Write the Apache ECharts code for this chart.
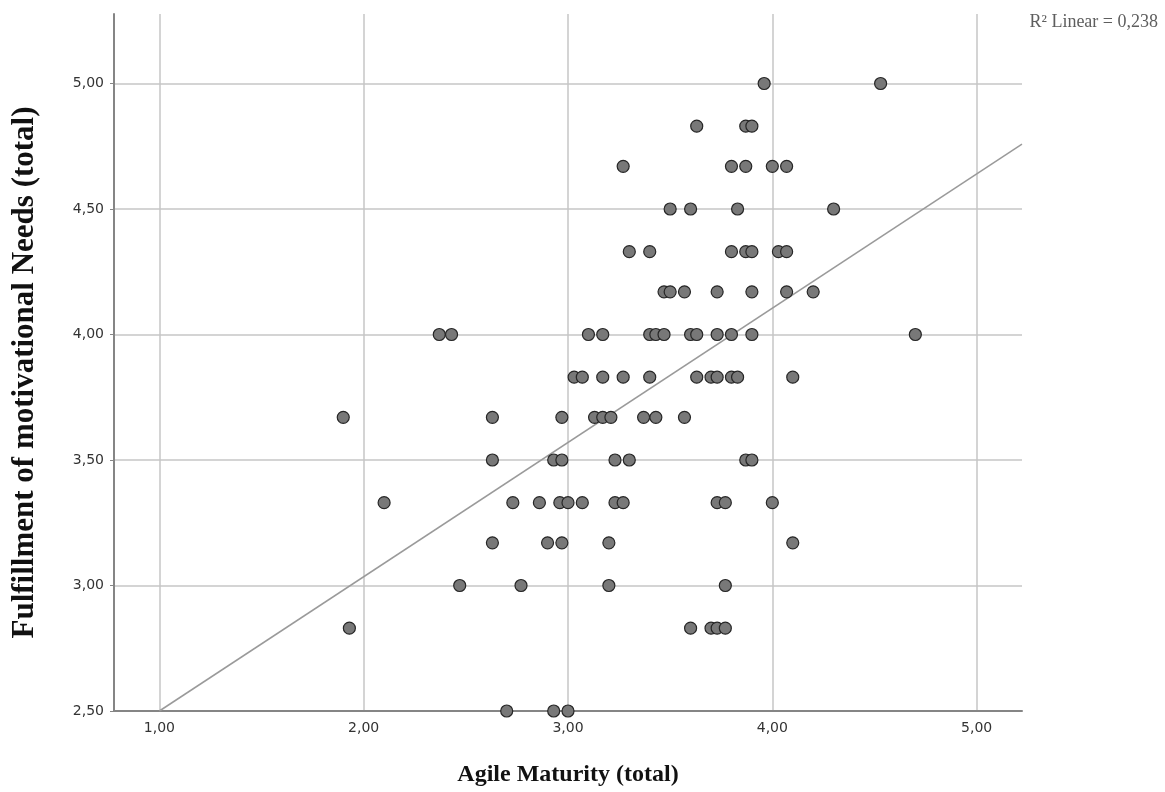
<!DOCTYPE html>
<html>
<head>
<meta charset="utf-8">
<title>Agile Maturity vs Fulfillment of motivational Needs</title>
<script src="https://cdn.jsdelivr.net/npm/echarts@6/dist/echarts.min.js"></script>
<style>
  html, body { margin: 0; padding: 0; background: #fff; }
  #main { width: 1165px; height: 792px; }
</style>
</head>
<body>
<div id="main"></div>
<script>
// Agile Maturity (x) and Fulfillment (y)
var agileMaturity = [
  3.96, 4.53,
  3.63, 3.87, 3.90,
  3.27, 3.80, 3.87, 4.00, 4.07,
  3.50, 3.60, 3.83, 4.30,
  3.30, 3.40, 3.80, 3.87, 3.90, 4.03, 4.07,
  3.47, 3.50, 3.57, 3.73, 3.90, 4.07, 4.20,
  2.37, 2.43, 3.10, 3.17, 3.40, 3.43, 3.47, 3.60, 3.63, 3.73, 3.80, 3.90, 4.70,
  3.03, 3.07, 3.17, 3.27, 3.40, 3.63, 3.70, 3.73, 3.80, 3.83, 4.10,
  1.90, 2.63, 2.97, 3.13, 3.17, 3.21, 3.37, 3.43, 3.57,
  2.63, 2.93, 2.97, 3.23, 3.30, 3.87, 3.90,
  2.10, 2.73, 2.86, 2.96, 3.00, 3.07, 3.23, 3.27, 3.73, 3.77, 4.00,
  2.63, 2.90, 2.97, 3.20, 4.10,
  2.47, 2.77, 3.20, 3.77,
  1.93, 3.60, 3.70, 3.73, 3.77,
  2.70, 2.93, 3.00
];
var fulfillment = [
  5.00, 5.00,
  4.83, 4.83, 4.83,
  4.67, 4.67, 4.67, 4.67, 4.67,
  4.50, 4.50, 4.50, 4.50,
  4.33, 4.33, 4.33, 4.33, 4.33, 4.33, 4.33,
  4.17, 4.17, 4.17, 4.17, 4.17, 4.17, 4.17,
  4.00, 4.00, 4.00, 4.00, 4.00, 4.00, 4.00, 4.00, 4.00, 4.00, 4.00, 4.00, 4.00,
  3.83, 3.83, 3.83, 3.83, 3.83, 3.83, 3.83, 3.83, 3.83, 3.83, 3.83,
  3.67, 3.67, 3.67, 3.67, 3.67, 3.67, 3.67, 3.67, 3.67,
  3.50, 3.50, 3.50, 3.50, 3.50, 3.50, 3.50,
  3.33, 3.33, 3.33, 3.33, 3.33, 3.33, 3.33, 3.33, 3.33, 3.33, 3.33,
  3.17, 3.17, 3.17, 3.17, 3.17,
  3.00, 3.00, 3.00, 3.00,
  2.83, 2.83, 2.83, 2.83, 2.83,
  2.50, 2.50, 2.50
];

// fit line as drawn (R2 Linear = 0,238)
var fitIntercept = 1.965;
var fitSlope = 0.535;
var fitRange = [1.0, 5.222];

var xMin = 0.778, xMax = 5.222;
var yMin = 2.5, yMax = 5.277;

var points = agileMaturity.map(function (x, i) { return [x, fulfillment[i]]; });
var fitLine = fitRange.map(function (x) { return [x, fitIntercept + fitSlope * x]; });

function comma(v) {
  return v.toFixed(2).replace('.', ',');
}

var chart = echarts.init(document.getElementById('main'));
chart.setOption({
  animation: false,
  backgroundColor: '#ffffff',
  grid: { left: 114, right: 143, top: 14, bottom: 79 },
  title: {
    text: 'R² Linear = 0,238',
    right: 2,
    top: 8,
    textStyle: { fontFamily: 'Liberation Serif', fontWeight: 'normal', fontSize: 18, color: '#5e5e5e' }
  },
  xAxis: {
    type: 'value',
    min: xMin,
    max: xMax,
    name: 'Agile Maturity (total)',
    nameLocation: 'middle',
    nameGap: 52,
    nameTextStyle: { fontFamily: 'Liberation Serif', fontWeight: 'bold', fontSize: 24, color: '#111' },
    axisLine: { show: true, onZero: false, lineStyle: { color: '#858585', width: 2 } },
    axisTick: { show: false },
    axisLabel: {
      margin: 10,
      fontFamily: 'DejaVu Sans',
      fontSize: 14,
      color: '#333',
      showMinLabel: false,
      showMaxLabel: false,
      formatter: function (v) { return Math.abs(v - Math.round(v)) < 1e-6 ? comma(v) : ''; }
    },
    splitLine: { show: true, showMinLine: false, showMaxLine: false, lineStyle: { color: '#c6c6c6', width: 1.5 } }
  },
  yAxis: {
    type: 'value',
    min: yMin,
    max: yMax,
    interval: 0.5,
    name: 'Fulfillment of motivational Needs (total)',
    nameLocation: 'middle',
    nameGap: 74,
    nameTextStyle: {
      fontFamily: 'Liberation Serif', fontWeight: 'bold', fontSize: 31, color: '#111',
      padding: [0, 20, 0, 0]
    },
    axisLine: { show: true, onZero: false, lineStyle: { color: '#858585', width: 2 } },
    axisTick: { show: true, length: 4, lineStyle: { color: '#858585' } },
    axisLabel: {
      margin: 10,
      fontFamily: 'DejaVu Sans',
      fontSize: 14,
      color: '#333',
      showMaxLabel: false,
      formatter: function (v) { return v > 5.01 ? '' : comma(v); }
    },
    splitLine: { show: true, showMinLine: false, showMaxLine: false, lineStyle: { color: '#c6c6c6', width: 1.5 } }
  },
  series: [{
    type: 'line',
    data: fitLine,
    symbol: 'none',
    silent: true,
    lineStyle: { color: '#9a9a9a', width: 1.5 },
    z: 1
  }, {
    type: 'scatter',
    data: points,
    symbol: 'circle',
    symbolSize: 12,
    itemStyle: { color: '#787878', borderColor: '#262626', borderWidth: 1.2, opacity: 1 },
    z: 3
  }]
});
</script>
</body>
</html>
